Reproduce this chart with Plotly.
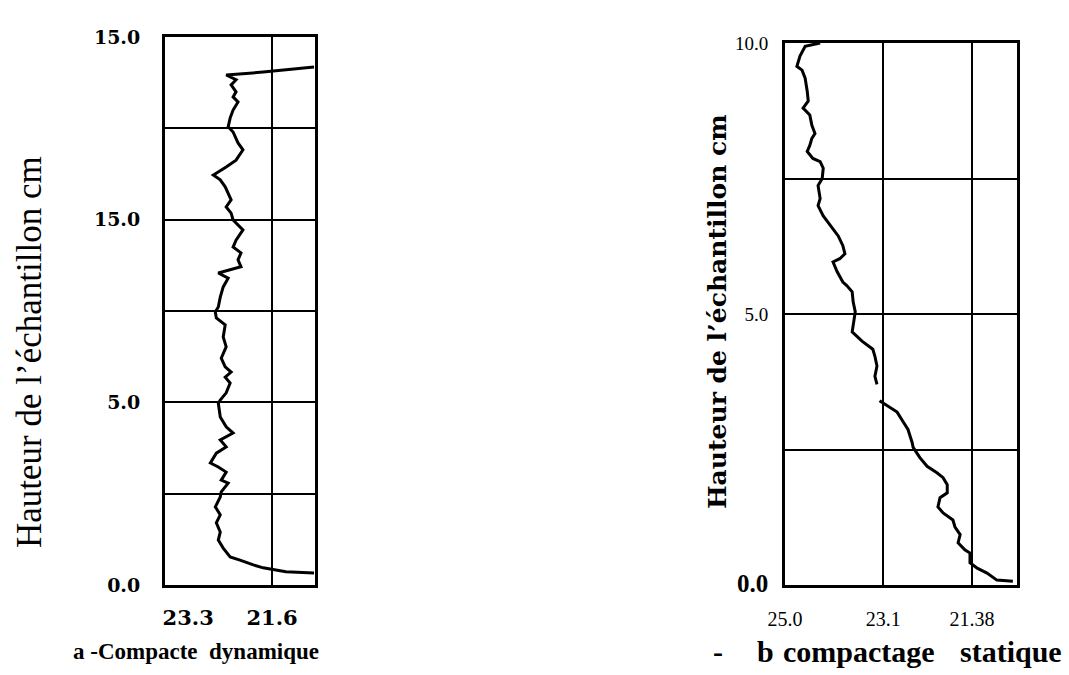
import plotly.graph_objects as go

# ---- Panel a : compactage dynamique ----
a_x = [20.75, 21.32, 21.78, 21.98, 22.25, 22.45, 22.59, 22.69, 22.65, 22.73, 22.65, 22.75,
       22.65, 22.63, 22.49, 22.63, 22.53, 22.69, 22.85, 22.73, 22.53, 22.65, 22.39, 22.53,
       22.65, 22.69, 22.65, 22.53, 22.45, 22.55, 22.43, 22.55, 22.63, 22.53, 22.59, 22.55,
       22.73, 22.75, 22.69, 22.65, 22.59, 22.49, 22.69, 22.45, 22.23, 22.29, 22.23, 22.39,
       22.33, 22.19, 22.39, 22.43, 22.53, 22.43, 22.49, 22.55, 22.65, 22.79, 22.53, 22.33,
       22.19, 22.29, 22.39, 22.49, 22.45, 22.39, 22.29, 22.39, 22.33, 22.43, 22.33, 22.53,
       21.78, 20.97, 20.75]
a_y = [0.33, 0.36, 0.47, 0.55, 0.68, 0.77, 1.01, 1.23, 1.45, 1.70, 1.92, 2.14,
       2.41, 2.55, 2.79, 2.87, 3.09, 3.23, 3.34, 3.61, 3.78, 3.97, 4.16, 4.33,
       4.60, 4.98, 5.06, 5.26, 5.53, 5.69, 5.83, 5.97, 6.21, 6.52, 6.79, 7.12,
       7.31, 7.47, 7.61, 7.88, 8.16, 8.40, 8.54, 8.62, 8.71, 8.90, 9.09, 9.25,
       9.44, 9.72, 9.99, 10.18, 10.35, 10.54, 10.73, 10.90, 11.09, 11.22, 11.44, 11.63,
       11.91, 12.10, 12.40, 12.54, 12.78, 13.00, 13.22, 13.36, 13.50, 13.69, 13.83, 13.96,
       14.04, 14.15, 14.18]

a_xticks = [23.3]
a_xticklabels = ["23.3"]
a_xgrid = [21.6]
a_xgridlabels = ["21.6"]
a_yticks = [0, 2.5, 5, 7.5, 10, 12.5, 15]
a_yticklabels = ["0.0", "", "5.0", "", "15.0", "", "15.0"]

# ---- Panel b : compactage statique ----
b_x = [24.32, 24.61, 24.71, 24.77, 24.67, 24.61, 24.57, 24.55, 24.65, 24.52, 24.48, 24.42,
       24.48, 24.52, 24.57, 24.46, 24.32, 24.26, 24.28, 24.36, 24.32, 24.36, 24.26, 24.17,
       24.07, 23.97, 23.88, 23.84, 23.94, 24.07, 23.99, 23.88, 23.80, 23.70, 23.68, 23.64,
       23.70, 23.51, 23.30, 23.26, 23.22, 23.26, 23.22, None, 23.17, 22.83, 22.72, 22.62,
       22.54, 22.52, 22.39, 22.25, 22.06, 21.94, 21.86, 21.86, 22.00, 22.04, 21.94, 21.75,
       21.71, 21.61, 21.65, 21.52, 21.42, 21.42, 21.28, 21.09, 20.90, 20.59]
b_y = [10.00, 9.94, 9.76, 9.57, 9.50, 9.35, 9.11, 8.93, 8.80, 8.67, 8.48, 8.33,
       8.24, 8.11, 8.00, 7.87, 7.81, 7.69, 7.50, 7.37, 7.13, 7.00, 6.81, 6.70,
       6.57, 6.44, 6.26, 6.11, 6.02, 5.96, 5.78, 5.59, 5.52, 5.41, 5.22, 5.04,
       4.67, 4.50, 4.35, 4.22, 4.04, 3.85, 3.70, None, 3.40, 3.19, 3.02, 2.87,
       2.63, 2.54, 2.35, 2.19, 2.07, 1.98, 1.85, 1.70, 1.61, 1.44, 1.33, 1.20,
       1.07, 0.93, 0.78, 0.65, 0.59, 0.41, 0.31, 0.22, 0.09, 0.07]

b_xticks = [25.0, 23.1, 21.38]
b_xticklabels = ["25.0", "23.1", "21.38"]
b_yticks = [0, 2.5, 5, 7.5, 10]
b_yticklabels = ["<span style='font-size:25px'><b>0.0</b></span>", "", "5.0", "", "10.0"]

y_title = "Hauteur de l\u2019\u00e9chantillon cm"
caption_a = "a -Compacte\u00a0 dynamique"
caption_b_words = ["-", "b", "compactage", "statique"]

W, H = 1069, 675
SERIF = "Liberation Serif"

fig = go.Figure()
fig.add_trace(go.Scatter(x=a_x, y=a_y, mode="lines", xaxis="x", yaxis="y",
                         line=dict(color="black", width=3), showlegend=False,
                         connectgaps=False))
fig.add_trace(go.Scatter(x=b_x, y=b_y, mode="lines", xaxis="x2", yaxis="y2",
                         line=dict(color="black", width=3), showlegend=False,
                         connectgaps=False))

frame = dict(showline=True, linecolor="black", linewidth=3, mirror=True,
             zeroline=False, ticks="", fixedrange=True, automargin=False)

fig.update_layout(
    width=W, height=H,
    margin=dict(l=0, r=0, t=0, b=0, pad=0, autoexpand=False),
    paper_bgcolor="white", plot_bgcolor="white",
    xaxis=dict(domain=[165 / W, 315 / W], range=[23.77, 20.73], anchor="y",
               tickvals=a_xticks + a_xgrid, ticktext=a_xticklabels + a_xgridlabels,
               showgrid=False,
               minor=dict(tickvals=a_xgrid, showgrid=True, gridcolor="black", gridwidth=2),
               tickfont=dict(family="DejaVu Serif", size=21, color="black", weight="bold"),
               ticklabelstandoff=12, **frame),
    yaxis=dict(domain=[1 - 585 / H, 1 - 37 / H], range=[0, 15], anchor="x",
               tickvals=a_yticks, ticktext=a_yticklabels,
               showgrid=True, gridcolor="black", gridwidth=2,
               tickfont=dict(family="DejaVu Serif", size=19, color="black", weight="bold"),
               ticklabelstandoff=18, **frame),
    xaxis2=dict(domain=[785 / W, 1017 / W], range=[25.0, 20.51], anchor="y2",
                tickvals=b_xticks, ticktext=b_xticklabels,
                showgrid=True, gridcolor="black", gridwidth=2,
                tickfont=dict(family=SERIF, size=20, color="black"),
                ticklabelstandoff=14, **frame),
    yaxis2=dict(domain=[1 - 585 / H, 1 - 43 / H], range=[0, 10], anchor="x2",
                tickvals=b_yticks, ticktext=b_yticklabels,
                showgrid=True, gridcolor="black", gridwidth=2,
                tickfont=dict(family=SERIF, size=19, color="black"),
                ticklabelstandoff=10, **frame),
)

fig.add_annotation(text=y_title, x=30 / W, y=1 - 352 / H, xref="paper", yref="paper",
                   textangle=-90, showarrow=False, xanchor="center", yanchor="middle",
                   font=dict(family=SERIF, size=35, color="black"))
fig.add_annotation(text=y_title, x=717 / W, y=1 - 312 / H, xref="paper", yref="paper",
                   textangle=-90, showarrow=False, xanchor="center", yanchor="middle",
                   font=dict(family="DejaVu Serif", size=25, color="black", weight="bold"))
fig.add_annotation(text=caption_a, x=196 / W, y=1 - 651 / H, xref="paper", yref="paper",
                   showarrow=False, xanchor="center", yanchor="middle",
                   font=dict(family=SERIF, size=23, color="black", weight="bold"))
for word, left in zip(caption_b_words, [711, 755, 781, 958]):
    fig.add_annotation(text=word, x=left / W, y=1 - 651 / H, xref="paper", yref="paper",
                       showarrow=False, xanchor="left", yanchor="middle",
                       font=dict(family=SERIF, size=30, color="black", weight="bold"))

fig.write_html("out.html")
